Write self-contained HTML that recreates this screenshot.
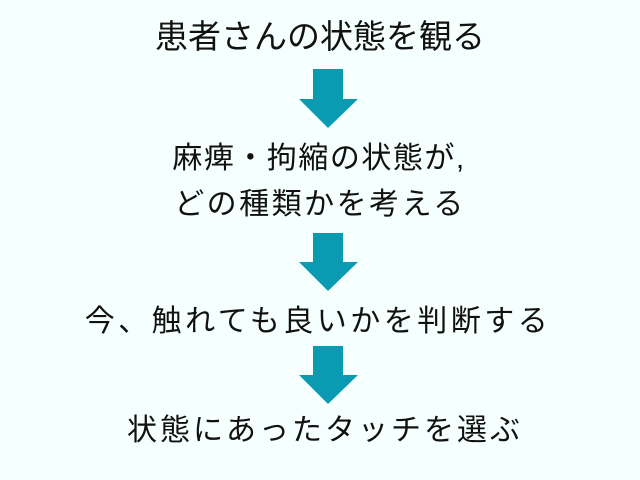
<!DOCTYPE html>
<html><head><meta charset="utf-8"><style>
html,body{margin:0;padding:0}
body{width:640px;height:480px;background:#f5fffd;position:relative;overflow:hidden;font-family:"Liberation Sans","Noto Sans CJK JP",sans-serif;color:#111}
.t{position:absolute;left:0;width:640px;text-align:center;font-size:30px;line-height:1;white-space:nowrap}
svg{position:absolute;left:0;top:0}
</style></head><body>
<div class="t" style="top:20px;font-size:33px;">患者さんの状態を観る</div>
<div class="t" style="top:144px;letter-spacing:1.5px;left:-1px">麻痺・拘縮の状態が,</div>
<div class="t" style="top:190px;letter-spacing:2.5px">どの種類かを考える</div>
<div class="t" style="top:307px;letter-spacing:3.5px;left:-2px">今、触れても良いかを判断する</div>
<div class="t" style="top:416px;letter-spacing:3px;left:5px">状態にあったタッチを選ぶ</div>
<svg width="640" height="480">
<g fill="#0a9bb3">
<polygon points="313,69 343,69 343,99 358,99 328,128 299,99 313,99"/>
<polygon points="313,233 343,233 343,262 358,262 328,291 299,262 313,262"/>
<polygon points="313,346 343,346 343,375 358,375 328,404 299,375 313,375"/>
</g>
</svg>
</body></html>
